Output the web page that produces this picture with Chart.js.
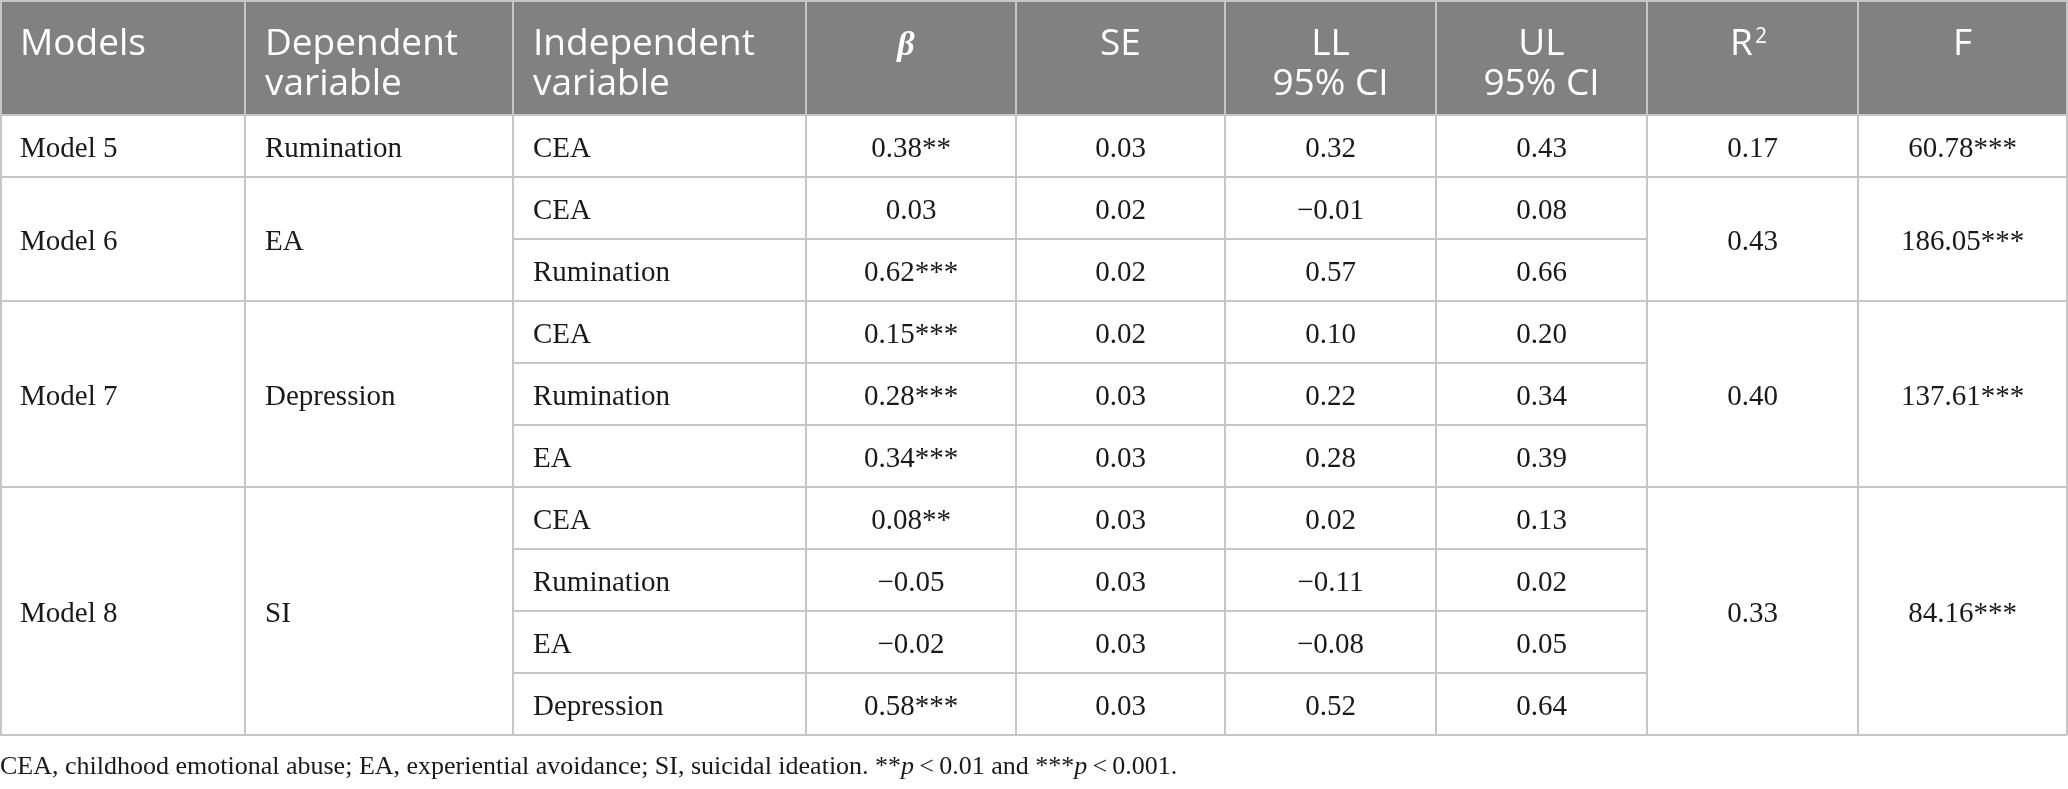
<!DOCTYPE html>
<html>
<head>
<meta charset="utf-8">
<script src="https://cdn.jsdelivr.net/npm/chart.js@4.4.0/dist/chart.umd.min.js"></script>
<style>
  html, body { margin: 0; padding: 0; background: #fff; }
  #wrap { width: 2068px; height: 789px; }
</style>
</head>
<body>
<div id="wrap"><canvas id="tbl" width="2068" height="789"></canvas></div>
<script>
// column headers (each entry = lines of the header cell)
const headers = [["Models"], ["Dependent", "variable"], ["Independent", "variable"], ["β"], ["SE"], ["LL", "95% CI"], ["UL", "95% CI"], ["R2"], ["F"]];

// one entry per model
const models = ["Model 5", "Model 6", "Model 7", "Model 8"];
const dependentVars = ["Rumination", "EA", "Depression", "SI"];
const predictorCount = [1, 2, 3, 4];
const r2 = [0.17, 0.43, 0.40, 0.33];
const fStat = [60.78, 186.05, 137.61, 84.16];
const fSig = ["***", "***", "***", "***"];

// one entry per predictor row
const independentVars = ["CEA", "CEA", "Rumination", "CEA", "Rumination", "EA", "CEA", "Rumination", "EA", "Depression"];
const beta = [0.38, 0.03, 0.62, 0.15, 0.28, 0.34, 0.08, -0.05, -0.02, 0.58];
const betaSig = ["**", "", "***", "***", "***", "***", "**", "", "", "***"];
const se = [0.03, 0.02, 0.02, 0.02, 0.03, 0.03, 0.03, 0.03, 0.03, 0.03];
const ll = [0.32, -0.01, 0.57, 0.10, 0.22, 0.28, 0.02, -0.11, -0.08, 0.52];
const ul = [0.43, 0.08, 0.66, 0.20, 0.34, 0.39, 0.13, 0.02, 0.05, 0.64];

// footnote, [text, italic]
const note = [
  ["CEA, childhood emotional abuse; EA, experiential avoidance; SI, suicidal ideation. **", false],
  ["p", true], ["\u2009<\u20090.01 and ***", false], ["p", true], ["\u2009<\u20090.001.", false]
];

// layout (pixels in the 2068 x 789 frame)
const colEdges = [0, 245, 513, 806, 1016, 1225, 1436, 1647, 1858, 2067];
const headerH = 115;
const rowH = 62;
const padL = 20;
const sansFont = '"Open Sans", "Noto Sans", sans-serif';
const serifFont = '"Liberation Serif", "DejaVu Serif", serif';

function fmt(v) {
  const s = Math.abs(v).toFixed(2);
  return v < 0 ? "\u2212" + s : s;
}

const tablePlugin = {
  id: "tablePlugin",
  afterDraw(chart) {
    const ctx = chart.ctx;
    const xs = chart.scales.x, ys = chart.scales.y;
    const X = v => xs.getPixelForValue(v);
    const Y = v => ys.getPixelForValue(v);
    const nRows = beta.length;
    const bottom = headerH + rowH * nRows;

    ctx.save();
    // header band
    ctx.fillStyle = "#808180";
    ctx.fillRect(X(colEdges[0]), Y(0), X(colEdges[9]) - X(colEdges[0]), Y(headerH) - Y(0));

    // header text
    ctx.fillStyle = "#fff";
    ctx.textBaseline = "alphabetic";
    const hFont = "37px " + sansFont;
    const supFont = "21px " + sansFont;
    headers.forEach((lines, c) => {
      const left = X(colEdges[c]), right = X(colEdges[c + 1]);
      lines.forEach((txt, i) => {
        const y = Y(55 + i * 40);
        if (c < 3) {
          ctx.font = hFont;
          ctx.textAlign = "left";
          ctx.fillText(txt, left + padL, y);
        } else if (txt === "β") {
          ctx.font = "bold italic 34px " + serifFont;
          ctx.textAlign = "center";
          ctx.fillText(txt, (left + right) / 2 - 5, y);
        } else if (txt === "R2") {
          ctx.font = hFont;
          const wR = ctx.measureText("R").width;
          ctx.font = supFont;
          const w2 = ctx.measureText("2").width;
          const x0 = (left + right) / 2 - 4 - (wR + w2 + 2) / 2;
          ctx.textAlign = "left";
          ctx.font = hFont;
          ctx.fillText("R", x0, y);
          ctx.font = supFont;
          ctx.fillText("2", x0 + wR + 2, y - 12);
        } else {
          ctx.font = hFont;
          ctx.textAlign = "center";
          ctx.fillText(txt, (left + right) / 2, y);
        }
      });
    });

    // body text
    ctx.fillStyle = "#1a1a1a";
    ctx.font = "29px " + serifFont;
    const base = 11;
    const centerText = (txt, c, yTop, h) => {
      ctx.textAlign = "center";
      ctx.fillText(txt, (X(colEdges[c]) + X(colEdges[c + 1])) / 2, Y(yTop + h / 2 + base));
    };
    const leftText = (txt, c, yTop, h) => {
      ctx.textAlign = "left";
      ctx.fillText(txt, X(colEdges[c]) + padL, Y(yTop + h / 2 + base));
    };

    for (let r = 0; r < nRows; r++) {
      const yTop = headerH + r * rowH;
      leftText(independentVars[r], 2, yTop, rowH);
      centerText(fmt(beta[r]) + betaSig[r], 3, yTop, rowH);
      centerText(fmt(se[r]), 4, yTop, rowH);
      centerText(fmt(ll[r]), 5, yTop, rowH);
      centerText(fmt(ul[r]), 6, yTop, rowH);
    }

    let start = 0;
    models.forEach((m, i) => {
      const yTop = headerH + start * rowH;
      const h = predictorCount[i] * rowH;
      leftText(m, 0, yTop, h);
      leftText(dependentVars[i], 1, yTop, h);
      centerText(fmt(r2[i]), 7, yTop, h);
      centerText(fmt(fStat[i]) + fSig[i], 8, yTop, h);
      start += predictorCount[i];
    });

    // grid lines
    ctx.strokeStyle = "#c6c6c6";
    ctx.lineWidth = 2;
    const hLine = (y, c0, c1) => {
      ctx.beginPath();
      ctx.moveTo(X(colEdges[c0]), Y(y));
      ctx.lineTo(X(colEdges[c1]), Y(y));
      ctx.stroke();
    };
    hLine(1, 0, 9);
    hLine(headerH, 0, 9);
    start = 0;
    models.forEach((m, i) => {
      for (let k = 1; k < predictorCount[i]; k++) hLine(headerH + (start + k) * rowH, 2, 7);
      start += predictorCount[i];
      hLine(headerH + start * rowH, 0, 9);
    });
    colEdges.forEach(cx => {
      const x = Math.min(Math.max(X(cx), 1), X(colEdges[9]));
      ctx.beginPath();
      ctx.moveTo(x, Y(0));
      ctx.lineTo(x, Y(bottom));
      ctx.stroke();
    });

    // footnote
    ctx.fillStyle = "#1a1a1a";
    ctx.textAlign = "left";
    let fx = X(0);
    note.forEach(([txt, it]) => {
      ctx.font = (it ? "italic " : "") + "26px " + serifFont;
      ctx.fillText(txt, fx, Y(774));
      fx += ctx.measureText(txt).width;
    });
    ctx.restore();
  }
};

new Chart(document.getElementById("tbl"), {
  type: "scatter",
  data: { datasets: [] },
  options: {
    responsive: false,
    animation: false,
    devicePixelRatio: 1,
    layout: { padding: 0 },
    plugins: { legend: { display: false }, tooltip: { enabled: false } },
    scales: {
      x: { type: "linear", min: 0, max: 2068, display: false },
      y: { type: "linear", min: 0, max: 789, reverse: true, display: false }
    }
  },
  plugins: [tablePlugin]
});
</script>
</body>
</html>
